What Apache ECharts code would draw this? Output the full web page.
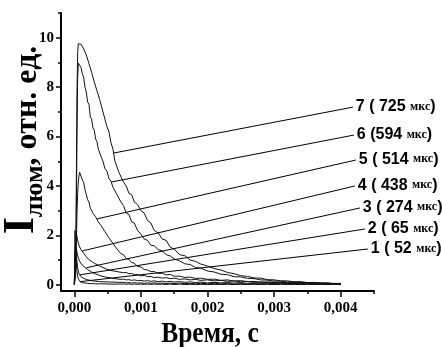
<!DOCTYPE html>
<html>
<head>
<meta charset="utf-8">
<script src="https://cdn.jsdelivr.net/npm/echarts@6/dist/echarts.min.js"></script>
<style>html,body{margin:0;padding:0;background:#fff}#c{width:442px;height:347px}</style>
</head>
<body>
<div id="c"></div>
<script>
// time grid, microseconds
const timeUs = [
  0,10,20,30,40,50,60,70,80,
  100,120,140,160,180,200,220,240,260,280,300,320,340,360,380,400,
  430,460,490,520,550,580,610,640,670,700,
  740,780,820,860,900,
  950,1000,1050,1100,1150,1200,
  1260,1320,1380,1440,1500,
  1580,1660,1740,1820,1900,
  2000,2100,2200,2300,2400,2500,2600,2700,2800,2900,3000,3100,3200,3300,3400,3500,3600,3700,3800,3900,4000
];
const curve1 = [
  0.02,2.2,1.45,0.9,0.55,0.36,0.25,0.18,0.14,
  0.11,0.09,0.08,0.07,0.07,0.06,0.07,0.05,0.06,0.05,0.06,0.04,0.06,0.04,0.05,0.04,
  0.05,0.04,0.05,0.03,0.05,0.03,0.04,0.03,0.04,0.03,
  0.04,0.02,0.04,0.02,0.03,
  0.02,0.03,0.02,0.03,0.02,0.03,
  0.02,0.03,0.01,0.03,0.01,
  0.03,0.01,0.02,0.01,0.02,
  0.01,0.02,0.01,0.02,0.01,0.02,0.01,0.02,0.01,0.02,0.01,0.02,0.01,0.02,0.01,0.02,0.01,0.02,0.01,0.02,0.01
];
const curve2 = [
  0.02,1.2,1.7,1.25,0.92,0.7,0.56,0.46,0.4,
  0.33,0.28,0.26,0.22,0.22,0.18,0.19,0.16,0.17,0.14,0.15,0.13,0.14,0.12,0.13,0.11,
  0.12,0.1,0.12,0.1,0.11,0.09,0.11,0.09,0.1,0.08,
  0.1,0.08,0.09,0.07,0.09,
  0.07,0.08,0.06,0.08,0.06,0.08,
  0.06,0.07,0.05,0.07,0.05,
  0.07,0.05,0.06,0.04,0.06,
  0.04,0.06,0.04,0.05,0.03,0.05,0.03,0.05,0.03,0.04,0.02,0.04,0.02,0.04,0.02,0.03,0.02,0.03,0.02,0.03,0.02
];
const curve3 = [
  0.02,0.8,1.4,1.5,1.32,1.2,1.08,1.02,0.95,
  0.9,0.8,0.78,0.7,0.69,0.62,0.61,0.55,0.55,0.49,0.5,0.44,0.45,0.4,0.41,0.36,
  0.36,0.32,0.33,0.29,0.3,0.26,0.27,0.24,0.25,0.22,
  0.23,0.2,0.21,0.18,0.2,
  0.17,0.18,0.15,0.17,0.14,0.16,
  0.13,0.15,0.12,0.14,0.11,
  0.13,0.1,0.12,0.09,0.11,
  0.08,0.1,0.08,0.09,0.07,0.09,0.06,0.08,0.06,0.07,0.05,0.07,0.05,0.06,0.04,0.06,0.04,0.05,0.03,0.05,0.03
];
const curve4 = [
  0.02,0.7,1.7,2.08,1.95,1.82,1.7,1.6,1.55,
  1.42,1.37,1.28,1.24,1.13,1.12,1.02,1.02,0.94,0.95,0.87,0.88,0.82,0.83,0.76,0.77,
  0.7,0.69,0.63,0.64,0.58,0.6,0.55,0.57,0.52,0.54,
  0.49,0.5,0.45,0.46,0.41,
  0.42,0.36,0.38,0.33,0.34,0.29,
  0.31,0.27,0.29,0.25,0.27,
  0.22,0.24,0.2,0.22,0.18,
  0.2,0.16,0.18,0.14,0.16,0.12,0.14,0.1,0.12,0.09,0.11,0.08,0.1,0.07,0.09,0.06,0.08,0.05,0.07,0.04,0.05
];
const curve5 = [
  0.02,0.1,0.7,1.7,2.9,3.7,4.15,4.4,4.55,
  4.5,4.25,4.15,3.85,3.8,3.45,3.35,3.1,3.1,2.9,2.95,2.75,2.72,2.55,2.55,2.4,
  2.35,2.15,2.1,1.9,1.88,1.68,1.64,1.45,1.44,1.26,
  1.22,1.06,1.03,0.9,0.88,
  0.74,0.72,0.62,0.6,0.53,0.54,
  0.46,0.47,0.4,0.42,0.35,
  0.35,0.3,0.31,0.26,0.27,
  0.22,0.23,0.18,0.2,0.15,0.17,0.13,0.14,0.1,0.12,0.09,0.1,0.07,0.09,0.06,0.07,0.05,0.06,0.04,0.05,0.04
];
const curve6 = [
  0.02,0.05,0.35,2.6,6.1,8.4,8.97,8.9,8.92,
  8.8,8.55,8.4,8.0,7.8,7.4,7.3,6.8,6.7,6.35,6.25,5.9,5.8,5.5,5.45,5.2,
  5.0,4.7,4.6,4.3,4.2,3.95,3.9,3.65,3.6,3.35,
  3.2,2.9,2.85,2.55,2.5,
  2.2,2.05,1.85,1.8,1.6,1.58,
  1.42,1.38,1.22,1.17,1.05,
  0.97,0.85,0.82,0.7,0.67,
  0.56,0.52,0.43,0.41,0.33,0.32,0.26,0.25,0.2,0.19,0.15,0.15,0.11,0.12,0.09,0.09,0.07,0.08,0.05,0.06,0.05
];
const curve7 = [
  0.02,0.08,0.7,4.2,7.7,9.4,9.75,9.8,9.78,
  9.74,9.7,9.55,9.5,9.3,9.25,8.95,8.9,8.6,8.55,8.2,8.2,7.85,7.9,7.5,7.45,
  7.0,6.95,6.4,6.2,5.75,5.5,5.0,4.95,4.55,4.5,
  4.15,4.0,3.7,3.65,3.35,
  3.25,3.0,2.9,2.6,2.5,2.2,
  2.1,1.85,1.8,1.52,1.45,
  1.22,1.18,1.0,0.95,0.84,
  0.76,0.66,0.6,0.5,0.45,0.37,0.34,0.28,0.27,0.21,0.2,0.16,0.16,0.12,0.13,0.09,0.1,0.07,0.08,0.05,0.06
];
const curveValues = [curve1, curve2, curve3, curve4, curve5, curve6, curve7];
const curveLabels = ['1 ( 52 мкс)', '2 ( 65 мкс)', '3 ( 274 мкс)', '4 ( 438 мкс)', '5 ( 514 мкс)', '6 (594 мкс)', '7 ( 725 мкс)'];
const xTickValues = [0, 0.001, 0.002, 0.003, 0.004];
const xMinorTicks = [0.0005, 0.0015, 0.0025, 0.0035, 0.0045];
const yTickValues = [0, 2, 4, 6, 8, 10];
const yMinorTicks = [1, 3, 5, 7, 9, 11];

// leader lines (data coordinates): [start on curve, end near label]
const leaderLines = [
  [[0.00009, 0.13], [0.004408, 1.45]],
  [[0.000075, 0.40], [0.004363, 2.26]],
  [[0.00018, 0.69], [0.004288, 3.11]],
  [[0.00012, 1.37], [0.004213, 4.0]],
  [[0.000345, 2.67], [0.004228, 5.05]],
  [[0.000555, 4.16], [0.004198, 6.06]],
  [[0.000585, 5.33], [0.004183, 7.19]]
];

const serif = '"Liberation Serif", "Times New Roman", serif';
const sans = '"Liberation Sans", Arial, sans-serif';

function richLabel(s) {
  const parts = s.split('мкс');
  return '{n|' + parts[0] + '}{u|мкс}{n|' + parts[1] + '}';
}

const chart = echarts.init(document.getElementById('c'), null, {renderer: 'canvas'});

const series = curveValues.map((vals, i) => ({
  type: 'line',
  xAxisIndex: 0,
  yAxisIndex: 0,
  data: timeUs.map((t, j) => [t / 1e6, vals[j]]),
  symbol: 'none',
  showSymbol: false,
  lineStyle: {color: '#111', width: 1},
  animation: false,
  z: 2,
  markLine: {
    silent: true,
    animation: false,
    symbol: ['none', 'none'],
    lineStyle: {color: '#000', width: 1, type: 'solid'},
    label: {
      show: true,
      position: 'end',
      distance: 3,
      formatter: richLabel(curveLabels[i]),
      rich: {
        n: {fontFamily: sans, fontWeight: 'bold', fontSize: 16, color: '#000'},
        u: {fontFamily: serif, fontWeight: 'bold', fontSize: 12, color: '#000'}
      }
    },
    data: [[{coord: leaderLines[i][0]}, {coord: leaderLines[i][1]}]]
  }
}));

const axisLabelStyle = {fontFamily: serif, fontWeight: 'bold', fontSize: 15, color: '#000'};

chart.setOption({
  animation: false,
  backgroundColor: '#fff',
  grid: {left: 61, right: 68, top: 13, bottom: 56, containLabel: false},
  xAxis: [{
    type: 'value', min: -0.0002, max: 0.0045, position: 'bottom',
    axisLine: {show: true, onZero: false, lineStyle: {color: '#000', width: 2}},
    axisTick: {show: true, customValues: xTickValues, length: 6, lineStyle: {color: '#000', width: 1.5}},
    axisLabel: Object.assign({show: true, customValues: xTickValues, margin: 10,
      formatter: v => v.toFixed(3).replace('.', ',')}, axisLabelStyle),
    splitLine: {show: false}
  }, {
    type: 'value', min: -0.0002, max: 0.0045, position: 'bottom',
    axisLine: {show: false, onZero: false},
    axisTick: {show: true, customValues: xMinorTicks, length: 3, lineStyle: {color: '#000', width: 1.5}},
    axisLabel: {show: false},
    splitLine: {show: false}
  }],
  yAxis: [{
    type: 'value', min: -0.25, max: 11, position: 'left',
    axisLine: {show: true, onZero: false, lineStyle: {color: '#000', width: 2}},
    axisTick: {show: true, customValues: yTickValues, length: 5, lineStyle: {color: '#000', width: 1.5}},
    axisLabel: Object.assign({show: true, customValues: yTickValues, margin: 7}, axisLabelStyle),
    splitLine: {show: false}
  }, {
    type: 'value', min: -0.25, max: 11, position: 'left',
    axisLine: {show: false, onZero: false},
    axisTick: {show: true, customValues: yMinorTicks, length: 3, lineStyle: {color: '#000', width: 1.5}},
    axisLabel: {show: false},
    splitLine: {show: false}
  }],
  graphic: [{
    type: 'text',
    x: 24, y: 140,
    rotation: Math.PI / 2,
    style: {
      text: '{i|I}{s|люм}{m|, отн. ед.}',
      align: 'center',
      verticalAlign: 'middle',
      fill: '#000',
      rich: {
        i: {fontFamily: serif, fontWeight: 'bold', fontSize: 44, verticalAlign: 'bottom', padding: [0, 0, 4, 0]},
        s: {fontFamily: serif, fontWeight: 'bold', fontSize: 26, verticalAlign: 'bottom'},
        m: {fontFamily: serif, fontWeight: 'bold', fontSize: 32, verticalAlign: 'bottom', padding: [0, 0, 4, 0]}
      }
    }
  }, {
    type: 'text',
    x: 210, y: 334,
    scaleX: 0.85,
    style: {
      text: 'Время, с',
      font: 'bold 30px ' + serif,
      align: 'center',
      verticalAlign: 'middle',
      fill: '#000'
    }
  }],
  series: series
});
</script>
</body>
</html>
